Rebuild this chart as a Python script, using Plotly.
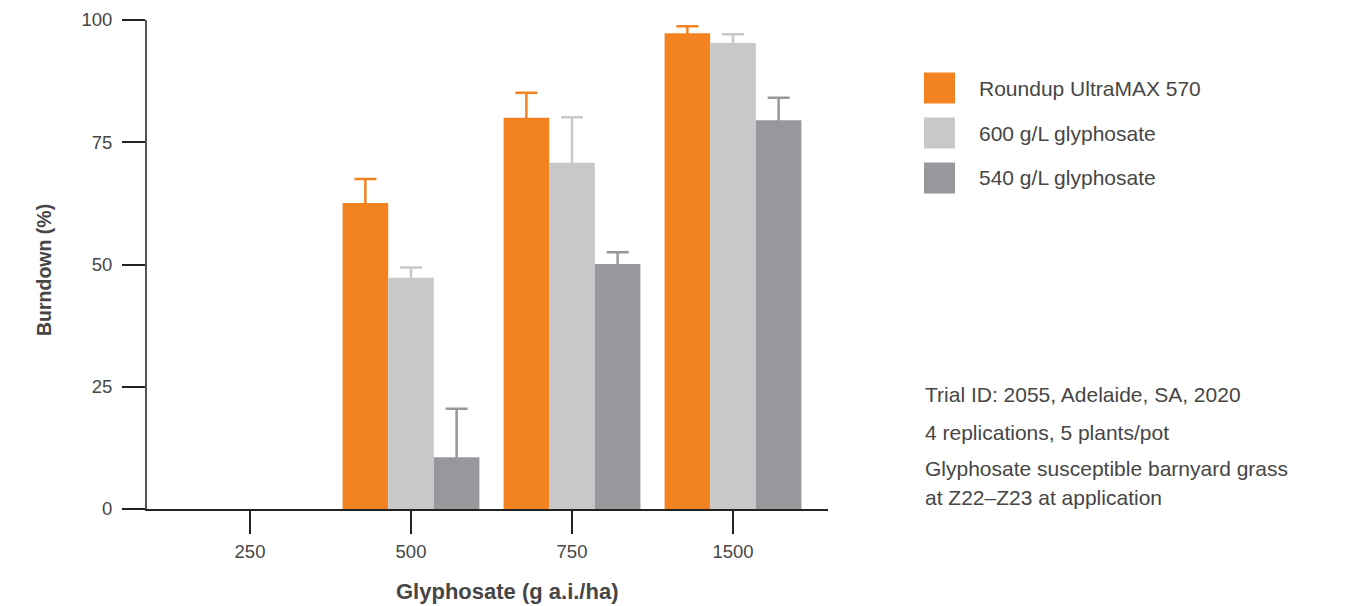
import plotly.graph_objects as go
import numpy as np

categories = ["250", "500", "750", "1500"]
series_names = ["Roundup UltraMAX 570", "600 g/L glyphosate", "540 g/L glyphosate"]
series_colors = ["#F38321", "#C7C8CA", "#97989B"]
roundup = [None, 62.6, 80.0, 97.3]
g600 = [None, 47.3, 70.8, 95.3]
g540 = [None, 10.6, 50.1, 79.5]
roundup_err = [None, 4.9, 5.1, 1.4]
g600_err = [None, 2.1, 9.3, 1.8]
g540_err = [None, 9.9, 2.4, 4.6]
y_ticks = [0, 25, 50, 75, 100]
x_title = "Glyphosate (g a.i./ha)"
y_title = "Burndown (%)"
notes = ["Trial ID: 2055, Adelaide, SA, 2020", "4 replications, 5 plants/pot",
         "Glyphosate susceptible barnyard grass", "at Z22\u2013Z23 at application"]

values = [roundup, g600, g540]
errors = [roundup_err, g600_err, g540_err]

FONT = "Liberation Sans, Arial, Helvetica, sans-serif"
TXT = "#464646"
# page body has an 8px margin; reference pixel coordinates are converted below
OFF = 8
W, H = 1348 - OFF, 606 - OFF
L, R, T, B = 147 - OFF, 828 - OFF, 20 - OFF, 509 - OFF

fig = go.Figure()
for name, col, vals, errs in zip(series_names, series_colors, values, errors):
    plus = [np.nan if e is None else e for e in errs]
    # lower whisker kept inside the bar (same colour) so only the upward whisker shows
    minus = [np.nan if (e is None or v is None) else min(3.0, v * 0.5) for e, v in zip(errs, vals)]
    fig.add_trace(go.Bar(
        x=categories, y=vals, name=name, marker=dict(color=col, line=dict(width=0)),
        error_y=dict(type="data", symmetric=False, array=plus, arrayminus=minus,
                     color=col, thickness=2.5, width=11),
        showlegend=False,
    ))

def px2x(px):
    return (px - OFF - L) / (R - L)

def py2y(py):
    return (B - (py - OFF)) / (B - T)

shapes = []
annotations = []
leg_y = [88, 133, 178]
for i, (name, col) in enumerate(zip(series_names, series_colors)):
    cy = leg_y[i]
    shapes.append(dict(type="rect", xref="paper", yref="paper",
                       x0=px2x(924), x1=px2x(955), y0=py2y(cy + 15.5), y1=py2y(cy - 15.5),
                       fillcolor=col, line=dict(width=0)))
    annotations.append(dict(text=name, xref="paper", yref="paper", x=px2x(977), y=py2y(cy),
                            xanchor="left", yanchor="middle", showarrow=False,
                            font=dict(family=FONT, size=21, color=TXT)))

note_y = [394, 432, 468, 497]
for t, cy in zip(notes, note_y):
    annotations.append(dict(text=t, xref="paper", yref="paper", x=px2x(923), y=py2y(cy),
                            xanchor="left", yanchor="middle", showarrow=False,
                            font=dict(family=FONT, size=21, color=TXT)))

annotations.append(dict(text="<b>%s</b>" % x_title, xref="paper", yref="paper",
                        x=px2x(507), y=py2y(591), xanchor="center", yanchor="middle",
                        showarrow=False, font=dict(family=FONT, size=22, color=TXT)))
annotations.append(dict(text="<b>%s</b>" % y_title, xref="paper", yref="paper",
                        x=px2x(44), y=py2y(270), xanchor="center", yanchor="middle",
                        textangle=-90, showarrow=False,
                        font=dict(family=FONT, size=19.5, color=TXT)))

fig.update_layout(
    width=W, height=H,
    margin=dict(l=L, r=W - R, t=T, b=H - B, pad=0, autoexpand=False),
    paper_bgcolor="white", plot_bgcolor="white",
    barmode="group", bargap=0.15, bargroupgap=0,
    font=dict(family=FONT, color=TXT),
    shapes=shapes, annotations=annotations,
    xaxis=dict(type="category", range=[(147 - 250) / 161, (828 - 250) / 161],
               showline=True, linecolor="#222222", linewidth=1.5, automargin=False,
               ticks="outside", ticklen=23, tickwidth=1.5, tickcolor="#222222",
               ticklabelstandoff=2,
               tickfont=dict(size=18.5, color=TXT), showgrid=False, zeroline=False),
    yaxis=dict(range=[0, 100], tickvals=y_ticks, showline=True, linecolor="#555555", linewidth=2,
               automargin=False, ticklabelstandoff=6,
               ticks="outside", ticklen=23, tickwidth=1.5, tickcolor="#222222",
               tickfont=dict(size=18.5, color=TXT), showgrid=False, zeroline=False),
)

fig.write_html("out.html")
